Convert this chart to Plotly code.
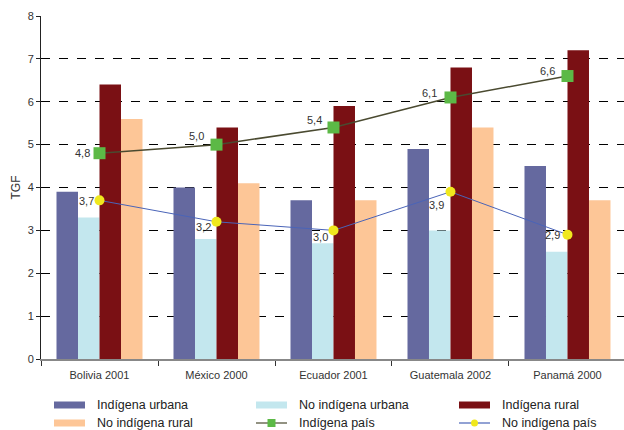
import plotly.graph_objects as go

categories = ["Bolivia 2001", "México 2000", "Ecuador 2001", "Guatemala 2002", "Panamá 2000"]
indigena_urbana = [3.9, 4.0, 3.7, 4.9, 4.5]
no_indigena_urbana = [3.3, 2.8, 2.7, 3.0, 2.5]
indigena_rural = [6.4, 5.4, 5.9, 6.8, 7.2]
no_indigena_rural = [5.6, 4.1, 3.7, 5.4, 3.7]
indigena_pais = [4.8, 5.0, 5.4, 6.1, 6.6]
no_indigena_pais = [3.7, 3.2, 3.0, 3.9, 2.9]
y_ticks = [0, 1, 2, 3, 4, 5, 6, 7, 8]

def fmt(v):
    return f"{v:.1f}".replace(".", ",")

C_IU = "#65699F"
C_NIU = "#C3E7EE"
C_IR = "#7A1014"
C_NIR = "#FDC697"
C_IP_M = "#5CB946"
C_IP_L = "#4A4A30"
C_NIP_M = "#F0E81E"
C_NIP_L = "#4A64B8"
TXT = "#333333"

fig = go.Figure()
for name, vals, col in [("Indígena urbana", indigena_urbana, C_IU),
                        ("No indígena urbana", no_indigena_urbana, C_NIU),
                        ("Indígena rural", indigena_rural, C_IR),
                        ("No indígena rural", no_indigena_rural, C_NIR)]:
    fig.add_trace(go.Bar(x=categories, y=vals, name=name, marker_color=col,
                         marker_line_width=0, showlegend=False))

fig.add_trace(go.Scatter(x=categories, y=indigena_pais, name="Indígena país",
                         mode="lines+markers",
                         line=dict(color=C_IP_L, width=1.5),
                         marker=dict(symbol="square", size=12, color=C_IP_M),
                         showlegend=False))
fig.add_trace(go.Scatter(x=categories, y=no_indigena_pais, name="No indígena país",
                         mode="lines+markers",
                         line=dict(color=C_NIP_L, width=1),
                         marker=dict(symbol="circle", size=10, color=C_NIP_M),
                         showlegend=False))

annotations = []
# value labels (offsets are style only)
ip_off = [(-8, 0), (-11, 9), (-9, 7), (-11, 4), (-10, 5)]
nip_off = [(-4, -1), (-4, -5), (-3, -7), (-4, -13), (-5, 0)]
for vals, offs in [(indigena_pais, ip_off), (no_indigena_pais, nip_off)]:
    for c, v, (dx, dy) in zip(categories, vals, offs):
        annotations.append(dict(x=c, y=v, xref="x", yref="y", text=fmt(v), showarrow=False,
                                xanchor="right", yanchor="middle", xshift=dx, yshift=dy,
                                font=dict(size=11, color=TXT)))

W, H = 624, 430
L, R, T, B = 41, 0, 16, 71
pw, ph = W - L - R, H - T - B

def px(x):
    return (x - L) / pw

def py(y):
    return (H - B - y) / ph

legend_items = [
    ("Indígena urbana", "bar", C_IU, None, 54, 405),
    ("No indígena urbana", "bar", C_NIU, None, 256, 405),
    ("Indígena rural", "bar", C_IR, None, 459, 405),
    ("No indígena rural", "bar", C_NIR, None, 54, 423),
    ("Indígena país", "line", C_IP_L, C_IP_M, 256, 423),
    ("No indígena país", "line", C_NIP_L, C_NIP_M, 459, 423),
]
shapes = []
for label, kind, col, mcol, x0, yc in legend_items:
    if kind == "bar":
        shapes.append(dict(type="rect", xref="paper", yref="paper",
                           x0=px(x0), x1=px(x0 + 31), y0=py(yc - 3.5), y1=py(yc + 3.5),
                           fillcolor=col, line=dict(width=0)))
    else:
        shapes.append(dict(type="line", xref="paper", yref="paper",
                           x0=px(x0), x1=px(x0 + 31), y0=py(yc), y1=py(yc),
                           line=dict(color=col, width=1.2)))
        if mcol == C_IP_M:
            shapes.append(dict(type="rect", xref="paper", yref="paper",
                               x0=px(x0 + 11.5), x1=px(x0 + 19.5), y0=py(yc - 4), y1=py(yc + 4),
                               fillcolor=mcol, line=dict(width=0)))
        else:
            shapes.append(dict(type="circle", xref="paper", yref="paper",
                               x0=px(x0 + 12), x1=px(x0 + 19), y0=py(yc - 3.5), y1=py(yc + 3.5),
                               fillcolor=mcol, line=dict(width=0)))
    annotations.append(dict(xref="paper", yref="paper", x=px(x0 + 41), y=py(yc),
                            text=label, showarrow=False, xanchor="left", yanchor="middle",
                            font=dict(size=12.5, color="#222222")))

fig.update_layout(
    width=W, height=H,
    margin=dict(l=L, r=R, t=T, b=B, pad=0),
    paper_bgcolor="white", plot_bgcolor="white",
    font=dict(family="Liberation Sans, Arial, sans-serif", size=11, color=TXT),
    barmode="group", bargap=0.265, bargroupgap=0,
    showlegend=False,
    shapes=shapes, annotations=annotations,
    xaxis=dict(range=[-0.5, 4.483], showgrid=False, showline=True, linecolor="#888888",
               linewidth=2, ticks="outside", tickson="boundaries", ticklen=5,
               tickcolor="#333333", tickfont=dict(size=11, color=TXT),
               ticklabelstandoff=5, fixedrange=True),
    yaxis=dict(range=[0, 8], tickvals=y_ticks, showgrid=True, gridcolor="#000000",
               griddash="dash", gridwidth=1, showline=True, linecolor="#222222",
               linewidth=1, ticks="outside", ticklen=4, tickcolor="#222222",
               zeroline=False,
               tickfont=dict(size=11, color=TXT),
               title=dict(text="TGF", font=dict(size=12, color=TXT), standoff=4)),
)

fig.write_html("out.html")
